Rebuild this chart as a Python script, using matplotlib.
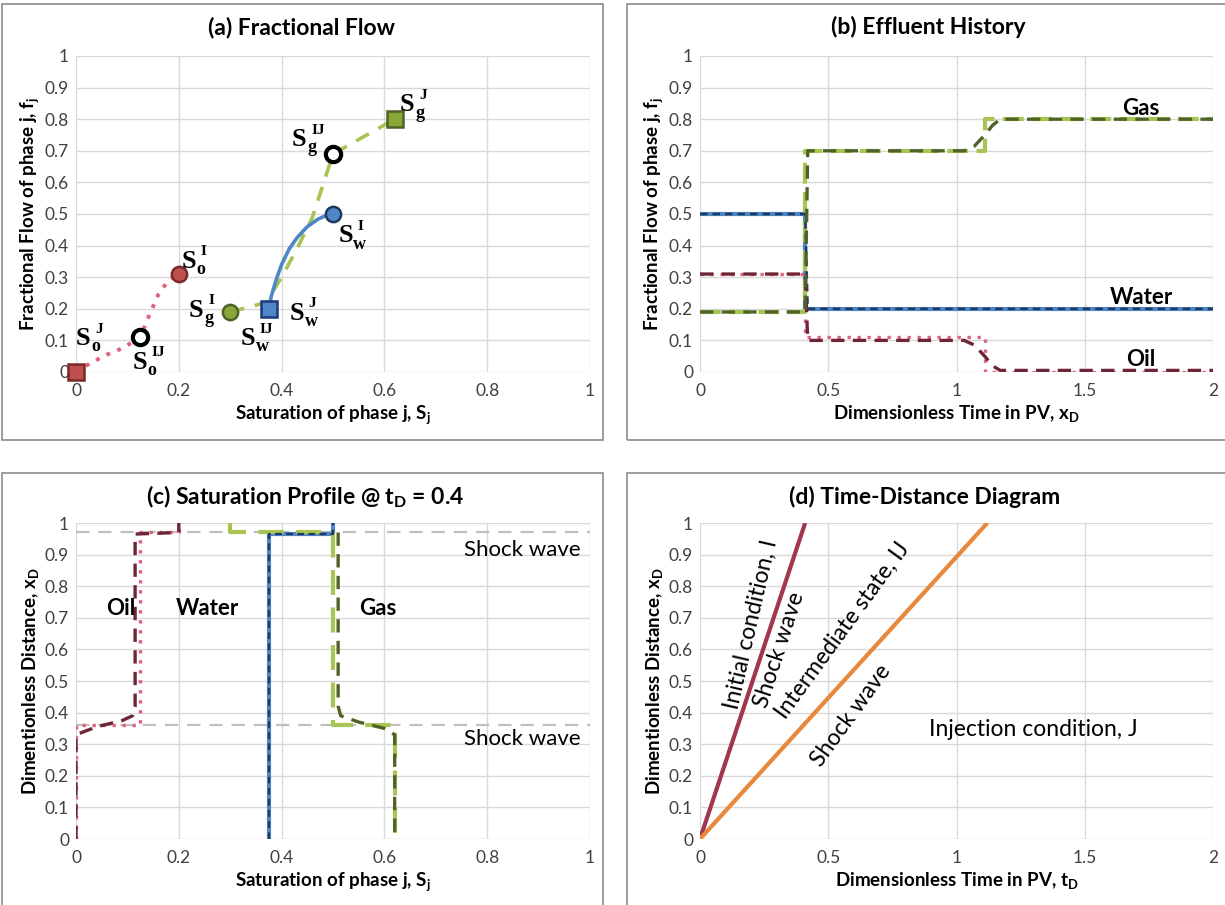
import matplotlib
matplotlib.use("Agg")
import matplotlib.pyplot as plt
from matplotlib.patches import Rectangle

plt.rcParams['font.family'] = ['Lato', 'DejaVu Sans']
plt.rcParams['mathtext.fontset'] = 'custom'
plt.rcParams['mathtext.rm'] = 'Lato'
plt.rcParams['mathtext.it'] = 'Lato'
plt.rcParams['mathtext.bf'] = 'Lato:bold'

# ---------------- data ----------------
# (a) fractional flow curves
oil_curve_s = [0.0, 0.03, 0.06, 0.09, 0.11, 0.125, 0.14, 0.16, 0.18, 0.2]
oil_curve_f = [0.0, 0.03, 0.055, 0.075, 0.095, 0.11, 0.17, 0.245, 0.29, 0.31]
water_curve_s = [0.375, 0.38, 0.39, 0.40, 0.415, 0.43, 0.45, 0.47, 0.485, 0.5]
water_curve_f = [0.2, 0.24, 0.295, 0.34, 0.39, 0.425, 0.46, 0.483, 0.494, 0.5]
gas_curve_s = [0.3, 0.37, 0.40, 0.43, 0.46, 0.48, 0.5, 0.62]
gas_curve_f = [0.19, 0.22, 0.30, 0.39, 0.49, 0.59, 0.69, 0.80]

pt_oil_J = (0.0, 0.0)
pt_oil_IJ = (0.125, 0.11)
pt_oil_I = (0.2, 0.31)
pt_water_J = (0.375, 0.2)
pt_water_I = (0.5, 0.5)
pt_gas_I = (0.3, 0.19)
pt_gas_IJ = (0.5, 0.69)
pt_gas_J = (0.62, 0.80)

# (b) effluent history
eff_t_step = [0.0, 0.41, 0.41, 1.11, 1.11, 2.0]
eff_water_step = [0.5, 0.5, 0.2, 0.2, 0.2, 0.2]
eff_oil_step = [0.31, 0.31, 0.11, 0.11, 0.0, 0.0]
eff_gas_step = [0.19, 0.19, 0.70, 0.70, 0.80, 0.80]
eff_t_smooth = [0.0, 0.41, 0.42, 1.03, 1.07, 1.11, 1.14, 1.17, 2.0]
eff_water_smooth = [0.5, 0.5, 0.2, 0.2, 0.2, 0.2, 0.2, 0.2, 0.2]
eff_oil_smooth = [0.31, 0.31, 0.10, 0.10, 0.085, 0.05, 0.02, 0.005, 0.005]
eff_gas_smooth = [0.19, 0.19, 0.70, 0.70, 0.715, 0.75, 0.78, 0.80, 0.80]

# (c) saturation profile at tD = 0.4
prof_oil_step_s = [0.0, 0.0, 0.125, 0.125, 0.2, 0.2]
prof_oil_step_x = [0.0, 0.36, 0.36, 0.97, 0.97, 1.0]
prof_oil_smooth_s = [0.0, 0.0, 0.04, 0.09, 0.11, 0.115, 0.115, 0.2, 0.2]
prof_oil_smooth_x = [0.0, 0.33, 0.355, 0.375, 0.39, 0.42, 0.965, 0.97, 1.0]
prof_water_s = [0.375, 0.375, 0.5, 0.5]
prof_water_x = [0.0, 0.965, 0.965, 1.0]
prof_gas_step_s = [0.3, 0.3, 0.5, 0.5, 0.62, 0.62]
prof_gas_step_x = [1.0, 0.97, 0.97, 0.36, 0.36, 0.0]
prof_gas_smooth_s = [0.51, 0.51, 0.515, 0.55, 0.6, 0.62, 0.62]
prof_gas_smooth_x = [0.97, 0.42, 0.39, 0.37, 0.35, 0.33, 0.0]
shock_levels = [0.97, 0.36]

# (d) time-distance diagram
td_t = [0.0, 0.41]
td_x = [0.0, 1.0]
td2_t = [0.0, 1.12]
td2_x = [0.0, 1.0]

# ---------------- styles ----------------
OIL_RED = '#c0504d'
OIL_DARK = '#6e2535'
OIL_PINK = '#e0607e'
WATER_BLUE = '#4f86c6'
WATER_DARK = '#1f3a60'
GAS_LIGHT = '#a8c453'
GAS_DARK = '#4f6228'
GAS_MARK = '#8aa83a'
GRID = '#d9d9d9'
TICK = '#404040'

W, H = 1225, 905
fig = plt.figure(figsize=(W / 100, H / 100), dpi=100)


def px_axes(x0, x1, y0, y1):
    return fig.add_axes([x0 / W, 1 - y1 / H, (x1 - x0) / W, (y1 - y0) / H])


def frame(x0, y0, x1, y1):
    fig.patches.append(Rectangle((x0 / W, 1 - y1 / H), (x1 - x0) / W, (y1 - y0) / H,
                                 transform=fig.transFigure, fill=False,
                                 edgecolor='#8c8c8c', linewidth=1.2))


def style(ax, xmax, xticks, xlabels):
    ax.set_xlim(0, xmax)
    ax.set_ylim(0, 1)
    ax.set_xticks(xticks)
    ax.set_xticklabels(xlabels)
    ax.set_yticks([i / 10 for i in range(11)])
    ax.set_yticklabels(['0', '0.1', '0.2', '0.3', '0.4', '0.5', '0.6', '0.7', '0.8', '0.9', '1'])
    ax.grid(True, color=GRID, linewidth=1.0)
    ax.set_axisbelow(True)
    for s in ax.spines.values():
        s.set_visible(False)
    ax.tick_params(length=0, labelsize=12.5, colors=TICK, pad=5)
    ax.tick_params(axis='x', pad=8)


frame(2, 4, 603, 440)
frame(627, 4, 1240, 440)
frame(2, 473, 603, 920)
frame(627, 473, 1240, 920)

ax_a = px_axes(76, 590, 56, 372)
ax_b = px_axes(700, 1213, 56, 372)
ax_c = px_axes(76, 590, 523, 839)
ax_d = px_axes(700, 1213, 523, 839)

x01 = [0, 0.2, 0.4, 0.6, 0.8, 1.0]
x01l = ['0', '0.2', '0.4', '0.6', '0.8', '1']
x02 = [0, 0.5, 1.0, 1.5, 2.0]
x02l = ['0', '0.5', '1', '1.5', '2']
style(ax_a, 1.0, x01, x01l)
style(ax_b, 2.0, x02, x02l)
style(ax_c, 1.0, x01, x01l)
style(ax_d, 2.0, x02, x02l)

TFS = 16.5
LFS = 13.5


def title(xc, yc, s):
    fig.text(xc / W, 1 - yc / H, s, fontsize=TFS, fontweight='bold', ha='center', va='center')


title(302, 27, '(a) Fractional Flow')
title(928, 27, '(b) Effluent History')
title(305, 497, '(c) Saturation Profile @ t$_\\mathbf{D}$ = 0.4')
title(925, 497, '(d) Time-Distance Diagram')

ax_a.set_xlabel('Saturation of phase j, S$_\\mathbf{j}$', fontsize=LFS, fontweight='bold', labelpad=3)
ax_a.set_ylabel('Fractional Flow of phase j, f$_\\mathbf{j}$', fontsize=LFS, fontweight='bold', labelpad=3)
ax_b.set_xlabel('Dimensionless Time in PV, x$_\\mathbf{D}$', fontsize=LFS, fontweight='bold', labelpad=3)
ax_b.set_ylabel('Fractional Flow of phase j, f$_\\mathbf{j}$', fontsize=LFS, fontweight='bold', labelpad=3)
ax_c.set_xlabel('Saturation of phase j, S$_\\mathbf{j}$', fontsize=LFS, fontweight='bold', labelpad=3)
ax_c.set_ylabel('Dimentionless Distance, x$_\\mathbf{D}$', fontsize=LFS, fontweight='bold', labelpad=3)
ax_d.set_xlabel('Dimensionless Time in PV, t$_\\mathbf{D}$', fontsize=LFS, fontweight='bold', labelpad=3)
ax_d.set_ylabel('Dimentionless Distance, x$_\\mathbf{D}$', fontsize=LFS, fontweight='bold', labelpad=3)

# ---------------- (a) ----------------
ax_a.plot(oil_curve_s, oil_curve_f, color=OIL_PINK, linestyle=(0, (1, 2)), linewidth=2.8, zorder=2)
ax_a.plot(gas_curve_s, gas_curve_f, color=GAS_LIGHT, linestyle=(0, (4, 3)), linewidth=2.6, zorder=2)
ax_a.plot(water_curve_s, water_curve_f, color=WATER_BLUE, linestyle='-', linewidth=2.6, zorder=3)

ms = 11
ax_a.plot(*pt_oil_J, marker='s', ms=ms, mfc=OIL_RED, mec='#7a2a28', mew=1.8, zorder=5, clip_on=False)
ax_a.plot(*pt_oil_I, marker='o', ms=ms, mfc=OIL_RED, mec='#7a2a28', mew=1.8, zorder=5)
ax_a.plot(*pt_oil_IJ, marker='o', ms=ms, mfc='white', mec='black', mew=3, zorder=5)
ax_a.plot(*pt_water_J, marker='s', ms=ms, mfc=WATER_BLUE, mec='#1f3a7a', mew=1.8, zorder=5)
ax_a.plot(*pt_water_I, marker='o', ms=ms, mfc=WATER_BLUE, mec='#1f3a60', mew=1.8, zorder=5)
ax_a.plot(*pt_gas_I, marker='o', ms=ms, mfc=GAS_MARK, mec='#4f6228', mew=1.8, zorder=5)
ax_a.plot(*pt_gas_IJ, marker='o', ms=ms, mfc='white', mec='black', mew=3, zorder=5)
ax_a.plot(*pt_gas_J, marker='s', ms=ms, mfc=GAS_MARK, mec='#4f6228', mew=1.8, zorder=5)


def s_label(ax, x, y, sub, sup):
    kw = dict(xycoords='data', textcoords='offset points', fontweight='bold',
              family=['Liberation Serif', 'DejaVu Serif'], color='black', zorder=6)
    ax.annotate('S', (x, y), xytext=(0, 0), fontsize=19, ha='left', va='baseline', **kw)
    ax.annotate(sub, (x, y), xytext=(11, -4.5), fontsize=13, ha='left', va='baseline', **kw)
    ax.annotate(sup, (x, y), xytext=(14, 9), fontsize=11, ha='left', va='baseline', **kw)


s_label(ax_a, 0.0, 0.085, 'o', 'J')
s_label(ax_a, 0.11, 0.01, 'o', 'IJ')
s_label(ax_a, 0.205, 0.33, 'o', 'I')
s_label(ax_a, 0.22, 0.175, 'g', 'I')
s_label(ax_a, 0.32, 0.085, 'w', 'IJ')
s_label(ax_a, 0.415, 0.165, 'w', 'J')
s_label(ax_a, 0.51, 0.41, 'w', 'I')
s_label(ax_a, 0.42, 0.715, 'g', 'IJ')
s_label(ax_a, 0.63, 0.825, 'g', 'J')

# ---------------- (b) ----------------
ax_b.plot(eff_t_step, eff_water_step, color=WATER_BLUE, linewidth=3, zorder=2)
ax_b.plot(eff_t_smooth, eff_water_smooth, color=WATER_DARK, linewidth=1.8, linestyle=(0, (3, 2)), zorder=3)
ax_b.plot(eff_t_step, eff_oil_step, color=OIL_PINK, linewidth=2.4, linestyle=(0, (1, 2)), zorder=2)
ax_b.plot(eff_t_smooth, eff_oil_smooth, color=OIL_DARK, linewidth=2.4, linestyle=(0, (4, 2.5)), zorder=3)
ax_b.plot(eff_t_step, eff_gas_step, color=GAS_LIGHT, linewidth=3, linestyle=(0, (5, 2)), zorder=2)
ax_b.plot(eff_t_smooth, eff_gas_smooth, color=GAS_DARK, linewidth=2.4, linestyle=(0, (4, 2.5)), zorder=3)

ax_b.text(1.72, 0.835, 'Gas', fontsize=16, fontweight='bold', ha='center', va='center')
ax_b.text(1.72, 0.235, 'Water', fontsize=16, fontweight='bold', ha='center', va='center')
ax_b.text(1.72, 0.04, 'Oil', fontsize=16, fontweight='bold', ha='center', va='center')

# ---------------- (c) ----------------
for lvl in shock_levels:
    ax_c.axhline(lvl, color='#bfbfbf', linewidth=1.6, linestyle=(0, (6, 4)), zorder=1)
ax_c.plot(prof_oil_step_s, prof_oil_step_x, color=OIL_PINK, linewidth=2.4, linestyle=(0, (1, 2)), zorder=2)
ax_c.plot(prof_oil_smooth_s, prof_oil_smooth_x, color=OIL_DARK, linewidth=2.4, linestyle=(0, (4, 2.5)), zorder=3)
ax_c.plot(prof_water_s, prof_water_x, color=WATER_BLUE, linewidth=3, zorder=2)
ax_c.plot(prof_water_s, prof_water_x, color=WATER_DARK, linewidth=1.6, linestyle=(0, (3, 2)), zorder=3)
ax_c.plot(prof_gas_step_s, prof_gas_step_x, color=GAS_LIGHT, linewidth=3, linestyle=(0, (6, 3)), zorder=2)
ax_c.plot(prof_gas_smooth_s, prof_gas_smooth_x, color=GAS_DARK, linewidth=2.4, linestyle=(0, (4, 2.5)), zorder=3)

ax_c.text(0.868, 0.915, 'Shock wave', fontsize=16, ha='center', va='center')
ax_c.text(0.868, 0.315, 'Shock wave', fontsize=16, ha='center', va='center')
ax_c.text(0.088, 0.73, 'Oil', fontsize=16, fontweight='bold', ha='center', va='center')
ax_c.text(0.255, 0.73, 'Water', fontsize=16, fontweight='bold', ha='center', va='center')
ax_c.text(0.587, 0.73, 'Gas', fontsize=16, fontweight='bold', ha='center', va='center')

# ---------------- (d) ----------------
ax_d.plot(td_t, td_x, color='#a3364f', linewidth=3, solid_capstyle='butt')
ax_d.plot(td2_t, td2_x, color='#e8883a', linewidth=3, solid_capstyle='butt')
ax_d.text(0.2, 0.68, 'Initial condition, I', fontsize=16.5, rotation=77, ha='center', va='center')
ax_d.text(0.31, 0.6, 'Shock wave', fontsize=16.5, rotation=72, ha='center', va='center')
ax_d.text(0.555, 0.66, 'Intermediate state, IJ', fontsize=16.5, rotation=54, ha='center', va='center')
ax_d.text(0.59, 0.39, 'Shock wave', fontsize=16.5, rotation=54, ha='center', va='center')
ax_d.text(1.3, 0.345, 'Injection condition, J', fontsize=16.5, ha='center', va='center')

fig.savefig('out.png', dpi=100)
